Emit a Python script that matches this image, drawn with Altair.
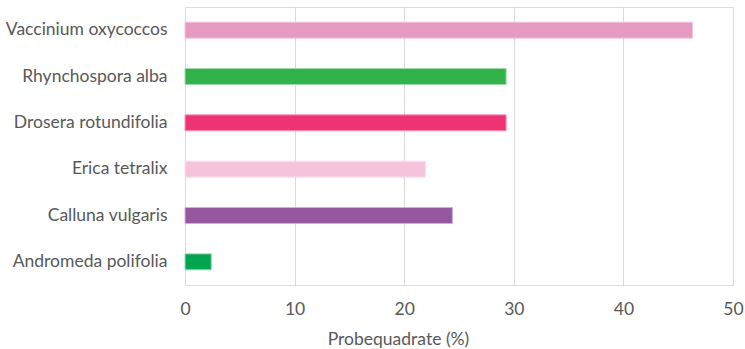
import altair as alt
import pandas as pd

# Share of sample quadrats in which each species occurs
species = [
    "Vaccinium oxycoccos",
    "Rhynchospora alba",
    "Drosera rotundifolia",
    "Erica tetralix",
    "Calluna vulgaris",
    "Andromeda polifolia",
]
percent = [46.3, 29.3, 29.3, 21.95, 24.4, 2.4]
colors = ["#e59ac3", "#31b24b", "#ee3273", "#f6c3dc", "#9457a0", "#00a550"]
strokes = ["#f2c4dc", "#9ddca8", "#f59ab9", "#fbe0ed", "#cfb0d6", "#99dbb5"]
x_ticks = [0, 10, 20, 30, 40, 50]

df = pd.DataFrame({"species": species, "percent": percent})

FONT = "Lato"
GREY = "#595959"
SIZE = 17.5

chart = (
    alt.Chart(df)
    .mark_bar(strokeWidth=1)
    .encode(
        y=alt.Y(
            "species:N",
            sort=species,
            title=None,
            scale=alt.Scale(paddingInner=0.655, paddingOuter=0.3275),
            axis=alt.Axis(
                domain=False,
                ticks=False,
                labelPadding=18,
                labelFont=FONT,
                labelFontSize=SIZE,
                labelColor=GREY,
                labelLimit=300,
            ),
        ),
        x=alt.X(
            "percent:Q",
            title="Probequadrate (%)",
            scale=alt.Scale(domain=[0, 50], nice=False),
            axis=alt.Axis(
                values=x_ticks,
                domain=False,
                ticks=False,
                grid=True,
                gridColor="#d9d9d9",
                gridWidth=1,
                labelFlush=False,
                labelPadding=15,
                labelFont=FONT,
                labelFontSize=SIZE,
                labelColor=GREY,
                titleFont=FONT,
                titleFontSize=SIZE,
                titleFontWeight="normal",
                titleColor=GREY,
                titleAlign="center",
                titleBaseline="alphabetic",
                titleX=213,
                titleY=59,
            ),
        ),
        color=alt.Color("species:N", scale=alt.Scale(domain=species, range=colors), legend=None),
        stroke=alt.Stroke("species:N", scale=alt.Scale(domain=species, range=strokes), legend=None),
    )
    .properties(
        width=548,
        height=278,
        autosize=alt.AutoSizeParams(type="none"),
        padding={"left": 185, "top": 7, "right": 12, "bottom": 64},
    )
    .configure_view(stroke=None)
    .configure(background="white")
)

chart.save("out.html", embed_options={"renderer": "svg", "actions": False})
